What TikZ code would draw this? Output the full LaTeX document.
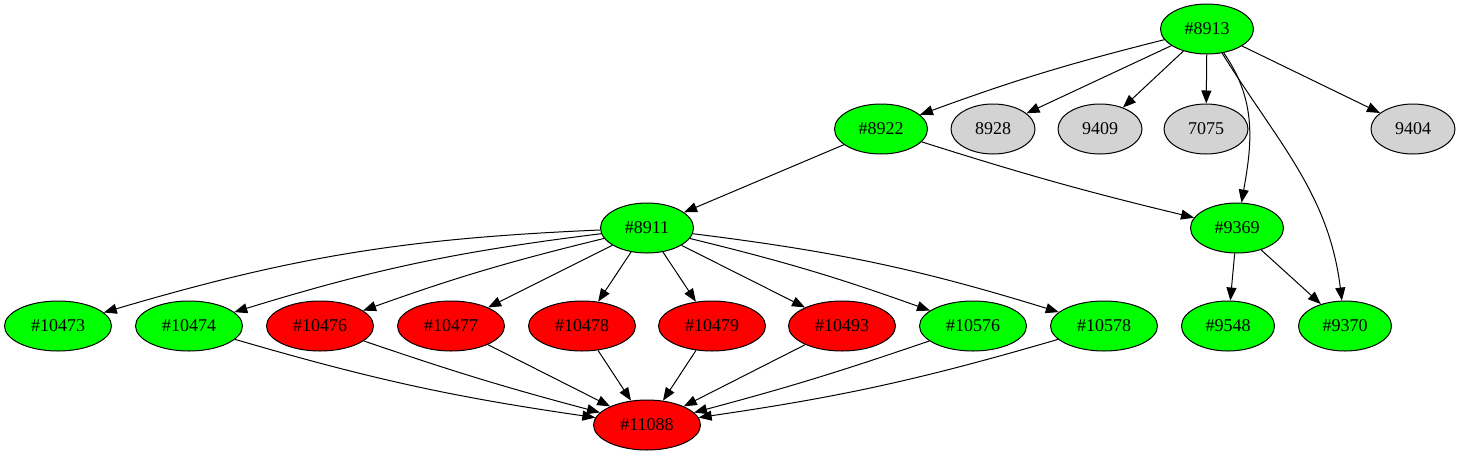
\documentclass[tikz,border=0pt]{standalone}
\usepackage{fontspec}
\setmainfont{Liberation Serif}
\usetikzlibrary{shapes.geometric,arrows.meta}
\definecolor{gvgreen}{HTML}{00FF00}
\definecolor{gvred}{HTML}{FF0000}
\definecolor{gvgray}{HTML}{D3D3D3}
\tikzset{
  gnode/.style={ellipse,draw=black,line width=1pt,inner sep=0pt,minimum height=50pt,font=\fontsize{18}{20}\selectfont},
  gn/.style={gnode,fill=gvgreen},
  rn/.style={gnode,fill=gvred},
  yn/.style={gnode,fill=gvgray,minimum width=84pt},
  w5/.style={minimum width=93pt},
  w6/.style={minimum width=107pt},
  edge/.style={draw=black,line width=1pt,-{Triangle[length=13pt,width=10pt]}}
}
\begin{document}
\begin{tikzpicture}[x=1pt,y=1pt]
\useasboundingbox (0,0) rectangle (1461,-456);
% top
\node[gn,w5] (n8913) at (1207,-29) {\#8913};
% row 2
\node[gn,w5] (n8922) at (881,-129) {\#8922};
\node[yn] (n8928) at (993,-129) {8928};
\node[yn] (n9409) at (1100,-129) {9409};
\node[yn] (n7075) at (1206,-129) {7075};
\node[yn] (n9404) at (1413,-129) {9404};
% row 3
\node[gn,w5] (n8911) at (647,-228) {\#8911};
\node[gn,w5] (n9369) at (1237,-228) {\#9369};
% row 4
\node[gn,w6] (n10473) at (58,-326) {\#10473};
\node[gn,w6] (n10474) at (189,-326) {\#10474};
\node[rn,w6] (n10476) at (320,-326) {\#10476};
\node[rn,w6] (n10477) at (451,-326) {\#10477};
\node[rn,w6] (n10478) at (582,-326) {\#10478};
\node[rn,w6] (n10479) at (712,-326) {\#10479};
\node[rn,w6] (n10493) at (842,-326) {\#10493};
\node[gn,w6] (n10576) at (973,-326) {\#10576};
\node[gn,w6] (n10578) at (1104,-326) {\#10578};
\node[gn,w5] (n9548) at (1228,-326) {\#9548};
\node[gn,w5] (n9370) at (1345,-326) {\#9370};
% row 5
\node[rn,w6] (n11088) at (647,-425) {\#11088};
% edges from 8913
\draw[edge] (n8913) to[bend right=3] (n8922);
\draw[edge] (n8913) -- (n8928);
\draw[edge] (n8913) -- (n9409);
\draw[edge] (n8913) -- (n7075);
\draw[edge] (n8913) -- (n9404);
\draw[edge] (n8913) to[out=-55,in=80] (n9369);
\draw[edge] (n8913) to[out=-58,in=97] (n9370);
% edges from 8922
\draw[edge] (n8922) -- (n8911);
\draw[edge] (n8922) to[bend right=2] (n9369);
% edges from 8911
\draw[edge] (n8911) to[bend right=7] (n10473);
\draw[edge] (n8911) to[bend right=5] (n10474);
\draw[edge] (n8911) to[bend right=3] (n10476);
\draw[edge] (n8911) -- (n10477);
\draw[edge] (n8911) -- (n10478);
\draw[edge] (n8911) -- (n10479);
\draw[edge] (n8911) -- (n10493);
\draw[edge] (n8911) to[bend left=3] (n10576);
\draw[edge] (n8911) to[bend left=5] (n10578);
% edges from 9369
\draw[edge] (n9369) -- (n9548);
\draw[edge] (n9369) -- (n9370);
% edges to 11088
\draw[edge] (n10474) to[bend right=4] (n11088);
\draw[edge] (n10476) to[bend right=2] (n11088);
\draw[edge] (n10477) -- (n11088);
\draw[edge] (n10478) -- (n11088);
\draw[edge] (n10479) -- (n11088);
\draw[edge] (n10493) -- (n11088);
\draw[edge] (n10576) to[bend left=2] (n11088);
\draw[edge] (n10578) to[bend left=4] (n11088);
\end{tikzpicture}
\end{document}
